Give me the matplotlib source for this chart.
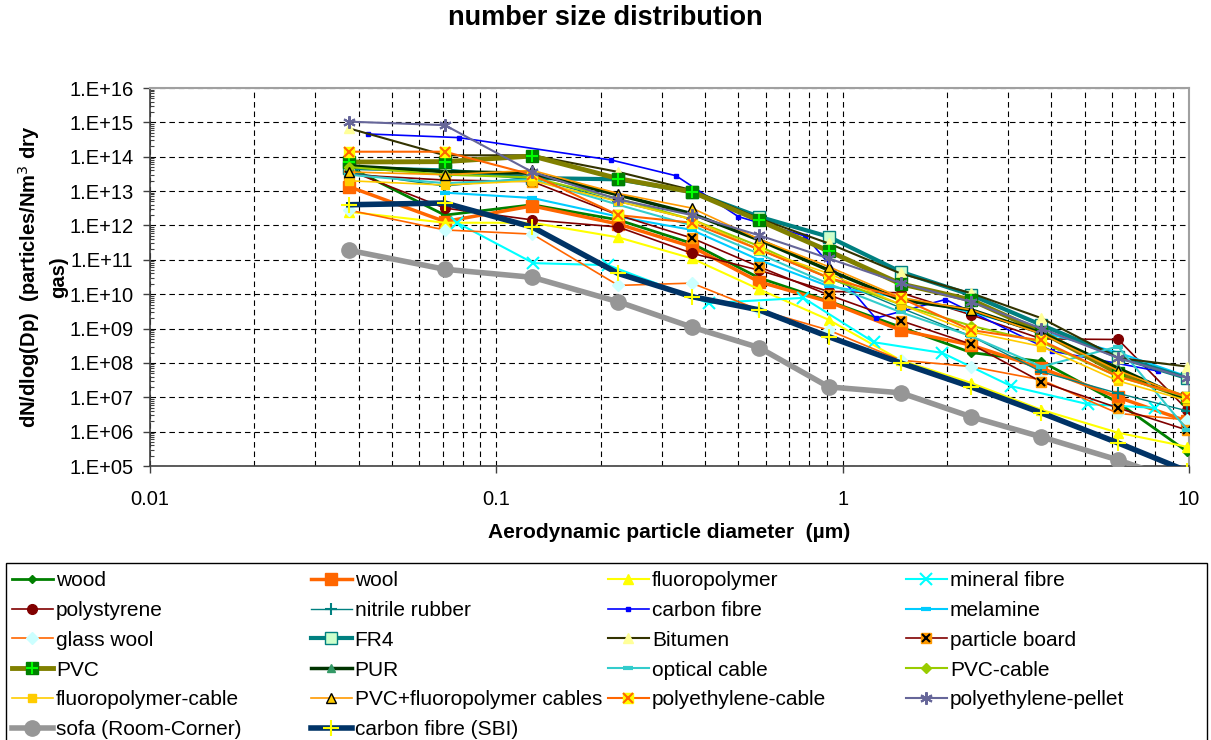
import numpy as np
import matplotlib
matplotlib.use('Agg')
from matplotlib import pyplot as plt
from matplotlib.patches import Rectangle
from matplotlib.ticker import FixedLocator, FuncFormatter, LogLocator, NullFormatter

plt.rcParams['font.family'] = ['Liberation Sans', 'DejaVu Sans']

nan = np.nan

# stage diameters (um) shared by most series
dp = [0.0375, 0.071, 0.127, 0.225, 0.367, 0.573, 0.911, 1.47, 2.35, 3.75, 6.24, 9.9]
# the two series measured at other diameters
mineral_dp = [0.077, 0.128, 0.21, 0.41, 0.77, 1.23, 1.94, 3.07, 5.1, 8.0]
cf_dp = [0.0425, 0.078, 0.215, 0.33, 0.5, 0.78, 1.245, 1.98, 4.03, 8.14]

wood = [5e13, 2e12, 4e12, 1.45e12, 3e11, 3e10, 6.3e9, 1.1e9, 2e8, 1.1e8, 7e6, 2.6e5]
wool = [1.35e13, 1.3e12, 3.7e12, 1.1e12, 2.4e11, 2.3e10, 6e9, 9e8, 3.3e8, 7e7, 1e7, 2e6]
fluoropolymer = [2.5e12, 1.2e12, 1.2e12, 4.5e11, 1.1e11, 1.4e10, 1.8e9, 1.2e8, 2.6e7, 4.3e6, 9.3e5, 3.6e5]
mineral_fibre = [1.2e12, 8e10, 7e10, 5.5e9, 7.8e9, 4e8, 1.95e8, 2.1e7, 6.3e6, 4.9e6]
polystyrene = [4e13, 3.2e12, 1.45e12, 9e11, 1.55e11, 5e10, 1.2e10, 1.1e10, 2.5e9, 5e8, 4.8e8, 4.3e6]
nitrile_rubber = [3.5e13, 1.4e13, 2.5e13, 5e12, 1.5e12, 2e11, 3e10, 4e9, 6e8, 5.5e7, 1.3e7, 4e6]
carbon_fibre = [4.6e14, 3.6e14, 8e13, 2.8e13, 1.8e12, 4.9e11, 2e9, 7e9, 2.2e8, 5.8e7]
melamine = [nan, 9e12, 6.3e12, 1.8e12, 7.4e11, 1e11, 1.7e10, 8e9, 3e9, 8e8, 2e8, 4e7]
glass_wool = [2.8e12, 7.4e11, 5.6e11, 1.8e10, 2.1e10, 3.5e9, 9e8, 1.2e8, 7.8e7, 3.2e7, 3.4e6, 2.2e6]
fr4 = [4.7e13, 4e13, 2.4e13, 2.2e13, 9.5e12, 1.8e12, 4.7e11, 4.5e10, 9.5e9, 1.27e9, 1.5e8, 3.6e7]
bitumen = [6.7e14, 1.1e14, 1.1e14, 3.6e13, 1.07e13, 1.6e12, 3e11, 4e10, 1.07e10, 2e9, 1.4e8, 7.8e7]
particle_board = [3e13, 2.1e13, 1.9e13, 2e12, 4.3e11, 6.3e10, 9.5e9, 1.7e9, 3.5e8, 2.8e7, 4.9e6, 1.1e6]
pvc = [7e13, 7.2e13, 1.05e14, 2.3e13, 9.5e12, 1.4e12, 1.8e11, 2e10, 6.8e9, 8e8, 5e7, 9.3e6]
pur = [5.4e13, 3.7e13, 3.3e13, 7.7e12, 2.2e12, 3.8e11, 5e10, 6.8e9, 3.5e9, 7.4e8, 7e7, 8.3e6]
optical_cable = [3e13, 1.7e13, 2.2e13, 4e12, 1e12, 1.5e11, 2e10, 3e9, 6e8, 7.8e7, 3e8, 1.1e6]
pvc_cable = [5e13, 3e13, 2.5e13, 6e12, 1.5e12, 2.5e11, 3e10, 5e9, 1.2e9, 4e8, 4e7, 1e7]
fluoropolymer_cable = [2e13, 1.5e13, 2e13, 5e12, 1.5e12, 2e11, 4e10, 5e9, 8e8, 3e8, 3e7, 8e6]
pvc_fluoro_cables = [3.6e13, 3e13, 4e13, 8.5e12, 3.2e12, 4e11, 6.3e10, 8e9, 3.5e9, 7e8, 6e7, 1e7]
pe_cable = [1.4e14, 1.4e14, 3e13, 2e12, 1.2e12, 2e11, 3e10, 7.8e9, 9e8, 4.5e8, 4e7, 1.05e7]
pe_pellet = [1.05e15, 8.3e14, 3.6e13, 5.7e12, 2e12, 5.2e11, 1.1e11, 2.1e10, 6e9, 1e9, 1.4e8, 3.6e7]
sofa = [1.9e11, 5.3e10, 3.1e10, 6e9, 1.1e9, 2.8e8, 2e7, 1.35e7, 2.7e6, 7e5, 1.5e5, 3e4]
carbon_fibre_sbi = [4e12, 4.5e12, 9e11, 4e10, 8.5e9, 3.5e9, 5.8e8, 1e8, 2e7, 3.5e6, 4.7e5, 7e4]

# (label, x, y, line colour, line width, marker, marker size, face, edge, overlay marker)
series = [
    ('wood', dp, wood, '#008000', 2.0, 'D', 4.5, '#008000', '#008000', None),
    ('wool', dp, wool, '#FF6600', 2.5, 's', 9, '#FF6600', '#FF6600', None),
    ('fluoropolymer', dp, fluoropolymer, '#FFFF00', 1.5, '^', 7, '#FFFF00', '#FFFF00', None),
    ('mineral fibre', mineral_dp, mineral_fibre, '#00FFFF', 1.5, 'x', 8, '#00FFFF', '#00FFFF', None),
    ('polystyrene', dp, polystyrene, '#800000', 1.2, 'o', 7, '#800000', '#800000', None),
    ('nitrile rubber', dp, nitrile_rubber, '#008080', 1.0, '+', 8, '#008080', '#008080', None),
    ('carbon fibre', cf_dp, carbon_fibre, '#0000FF', 1.2, 's', 3, '#0000FF', '#0000FF', None),
    ('melamine', dp, melamine, '#00CCFF', 1.5, '_', 7, '#00CCFF', '#00CCFF', None),
    ('glass wool', dp, glass_wool, '#FF6600', 1.2, 'D', 6, '#CCFFFF', '#CCFFFF', None),
    ('FR4', dp, fr4, '#008080', 3.0, 's', 8, '#CCFFCC', '#008080', None),
    ('Bitumen', dp, bitumen, '#333300', 1.5, '^', 7, '#FFFF99', '#FFFF99', None),
    ('particle board', dp, particle_board, '#800000', 1.2, 's', 7, '#FF9900', '#FF9900', ('x', '#000000', 6)),
    ('PVC', dp, pvc, '#808000', 3.5, 's', 8, '#008000', '#008000', ('+', '#00FF00', 8)),
    ('PUR', dp, pur, '#003300', 2.5, '^', 6, '#339966', '#339966', None),
    ('optical cable', dp, optical_cable, '#33CCCC', 1.5, '_', 7, '#33CCCC', '#33CCCC', None),
    ('PVC-cable', dp, pvc_cable, '#99CC00', 1.5, 'D', 5, '#99CC00', '#99CC00', None),
    ('fluoropolymer-cable', dp, fluoropolymer_cable, '#FFCC00', 1.2, 's', 6, '#FFCC00', '#FFCC00', None),
    ('PVC+fluoropolymer cables', dp, pvc_fluoro_cables, '#FF9900', 1.2, '^', 7, '#FFCC00', '#000000', None),
    ('polyethylene-cable', dp, pe_cable, '#FF6600', 1.5, 's', 7, '#FFFF00', '#FFFF00', ('x', '#FF6600', 7)),
    ('polyethylene-pellet', dp, pe_pellet, '#666699', 1.5, (6, 2, 0), 9, '#666699', '#666699', None),
    ('sofa (Room-Corner)', dp, sofa, '#969696', 4.0, 'o', 11, '#969696', '#969696', None),
    ('carbon fibre (SBI)', dp, carbon_fibre_sbi, '#003366', 4.0, '+', 11, '#FFFF00', '#FFFF00', None),
]

fig = plt.figure(figsize=(12.11, 7.4), dpi=100)
ax = fig.add_axes([150 / 1211, 1 - 466 / 740, 1039 / 1211, 378 / 740])

handles = []
labels = []
for i, (lab, x, y, col, lw, mk, ms, fc, ec, extra) in enumerate(series):
    mew = 1.5 if mk in ('x', '+', (6, 2, 0)) else 1.0
    if mk == '_':
        mew = 3
    ln, = ax.plot(x, y, color=col, lw=lw, marker=mk, ms=ms, mfc=fc, mec=ec, mew=mew,
                  zorder=3 + i * 0.01)
    h = ln
    if extra is not None:
        m2, c2, s2 = extra
        ov, = ax.plot(x, y, ls='none', marker=m2, ms=s2, mec=c2, mfc=c2, mew=1.5,
                      zorder=3 + i * 0.01 + 0.005)
        h = (ln, ov)
    handles.append(h)
    labels.append(lab)

ax.set_xscale('log')
ax.set_yscale('log')
ax.set_xlim(0.01, 10)
ax.set_ylim(1e5, 1e16)

ax.xaxis.set_major_locator(FixedLocator([0.01, 0.1, 1, 10]))
ax.xaxis.set_major_formatter(FuncFormatter(lambda v, p: '%g' % v))
ax.xaxis.set_minor_locator(LogLocator(base=10, subs=np.arange(2, 10), numticks=20))
ax.xaxis.set_minor_formatter(NullFormatter())
ax.yaxis.set_major_locator(FixedLocator([10.0 ** k for k in range(5, 17)]))
ax.yaxis.set_major_formatter(FuncFormatter(lambda v, p: '1.E+%02d' % round(np.log10(v))))
ax.yaxis.set_minor_locator(LogLocator(base=10, subs=np.arange(2, 10), numticks=30))
ax.yaxis.set_minor_formatter(NullFormatter())

ax.tick_params(axis='both', which='major', direction='out', length=5, width=1, labelsize=14.5, color='#404040')
ax.tick_params(axis='y', which='major', pad=7)
ax.tick_params(axis='x', which='major', pad=12)
ax.tick_params(axis='x', which='minor', length=0)
ax.tick_params(axis='y', which='minor', direction='in', length=3, width=0.8, color='#404040')

dash = (0, (5, 3.5))
ax.grid(True, which='major', axis='both', color='black', lw=0.8, ls=dash, zorder=1)
ax.grid(True, which='minor', axis='x', color='black', lw=0.8, ls=dash, zorder=1)
ax.set_axisbelow(True)

for s in ('top', 'right'):
    ax.spines[s].set_color('#A0A0A0')
    ax.spines[s].set_linewidth(1.5)
for s in ('left', 'bottom'):
    ax.spines[s].set_color('#404040')
    ax.spines[s].set_linewidth(1.2)

ax.set_xlabel('Aerodynamic particle diameter  (µm)', fontsize=15, fontweight='bold', labelpad=10)
ax.set_ylabel('dN/dlog(Dp)  (particles/Nm$^3$ dry\ngas)', fontsize=14.5, fontweight='bold',
              linespacing=1.45)
ax.yaxis.set_label_coords(-0.079, 0.5)
fig.text(0.5, 1 - 18 / 740, 'number size distribution', ha='center', va='center',
         fontsize=19.5, fontweight='bold')

# legend: four columns filled row by row, inside one frame
col_x = [12, 311, 608, 906]
for c in range(4):
    idx = list(range(c, len(handles), 4))
    fig.legend([handles[i] for i in idx], [labels[i] for i in idx],
               loc='upper left', bbox_to_anchor=(col_x[c] / 1211, 1 - 571 / 740),
               ncol=1, fontsize=15, frameon=False, borderaxespad=0, borderpad=0,
               labelspacing=0.52, handlelength=1.95, handletextpad=0.15)
fig.patches.append(Rectangle((6 / 1211, -0.05), 1201 / 1211, (1 - 563 / 740) + 0.05,
                             transform=fig.transFigure, fill=False, ec='black', lw=1.0))

fig.savefig('out.png', dpi=100)
